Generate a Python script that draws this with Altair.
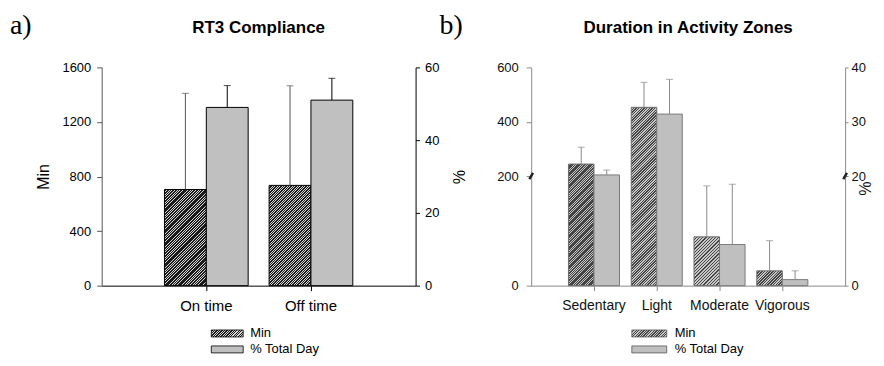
import altair as alt
import pandas as pd

FONT = "Liberation Sans"
SERIF = "Liberation Serif"

series = ["Min", "% Total Day"]

# Panel a) RT3 Compliance
a_categories = ["On time", "Off time"]
a_min_mean = [705, 735]
a_min_err = [705, 730]
a_pct_mean = [49, 51]
a_pct_err = [6, 6]
a_left_ticks = [0, 400, 800, 1200, 1600]
a_right_ticks = [0, 20, 40, 60]

# Panel b) Duration in Activity Zones
b_categories = ["Sedentary", "Light", "Moderate", "Vigorous"]
b_min_mean = [244, 453, 89, 27]
b_min_err = [62, 92, 93, 55]
b_pct_mean = [20.2, 31.4, 7.5, 1.1]
b_pct_err = [0.9, 6.4, 11.0, 1.6]
b_left_ticks = [0, 200, 400, 600]
b_right_ticks = [0, 20, 30, 40]

AW, BW, H = 315, 315, 219
A_BAR = AW / 3 / 2.5
B_BAR = BW / 5 / 2.46


def frame(cats, means, errs, s):
    return pd.DataFrame({"cat": cats, "series": s, "mean": means,
                         "top": [m + e for m, e in zip(means, errs)]})


def hatch(w, h, dark, light, px=1.6, duty=0.5):
    """Diagonal '/' stripes as a hard-stop linear gradient (stops on a 1/256 grid)."""
    w = max(w, 1.0)
    h = max(h, 1.0)
    total = w + h
    s = total / (w * w + h * h)
    k = max(2, int(round(px * 256 / total)))
    kd = max(1, int(round(k * duty)))
    stops = []
    i = 0
    while i * k < 256:
        a = i * k / 256
        b = min((i * k + kd) / 256, 1)
        c = min((i + 1) * k / 256, 1)
        stops += [{"offset": a, "color": dark}, {"offset": b, "color": dark},
                  {"offset": b, "color": light}, {"offset": c, "color": light}]
        i += 1
    return {"gradient": "linear", "x1": 0, "y1": 0, "x2": s * w, "y2": s * h, "stops": stops}


def text_layer(txt, x, y, **kw):
    return alt.Chart(pd.DataFrame({"t": [txt]})).mark_text(**kw).encode(
        text="t:N", x=alt.value(x), y=alt.value(y))


def legend(x0, x1, xt, y0, dark, light, fill2, stroke):
    layers = []
    for i, s in enumerate(series):
        yc = y0 + 16 * i
        fill = hatch(x1 - x0, 7, dark, light) if i == 0 else fill2
        layers.append(alt.Chart(pd.DataFrame({"s": [s]})).mark_rect(
            fill=fill, stroke=stroke, strokeWidth=0.8).encode(
            x=alt.value(x0), x2=alt.value(x1), y=alt.value(yc - 3.5), y2=alt.value(yc + 3.5)))
        layers.append(text_layer(s, xt, yc, font=FONT, fontSize=13, align="left",
                                 baseline="middle", color="black"))
    return layers


# ---------------- Panel a ----------------
a_min = frame(a_categories, a_min_mean, a_min_err, "Min")
a_pct = frame(a_categories, a_pct_mean, a_pct_err, "% Total Day")

ax_a_x = alt.Axis(title=None, labelAngle=0, labelFont=FONT, labelFontSize=15, labelColor="black",
                  domainColor="black", tickColor="black", tickSize=5, labelPadding=8)
xa = alt.X("cat:N", scale=alt.Scale(domain=a_categories, paddingInner=0, paddingOuter=0.5), axis=ax_a_x)
xoa = alt.XOffset("series:N", scale=alt.Scale(domain=series, paddingInner=0, paddingOuter=0.25))

ax_a_left = alt.Axis(orient="left", values=a_left_ticks, format="d", title="Min", titleFont=FONT,
                     titleFontSize=16, titleFontWeight="normal", titleColor="black", titleX=-58,
                     titleY=H / 2, titleAngle=-90, titleAlign="center", titleBaseline="middle",
                     labelFont=FONT, labelFontSize=13, labelColor="black", domainColor="#555",
                     tickColor="#555", tickSize=5, labelPadding=6, grid=False)
ya_min = alt.Scale(domain=[0, 1600], nice=False, zero=False)
ax_a_right = alt.Axis(orient="right", values=a_right_ticks, format="d", title="%", titleFont=FONT,
                      titleFontSize=16, titleFontWeight="normal", titleColor="black", titleX=42,
                      titleY=H / 2, titleAngle=90, titleAlign="center", titleBaseline="middle",
                      labelFont=FONT, labelFontSize=13, labelColor="black", domainColor="black",
                      tickColor="black", tickSize=4, labelPadding=5, grid=False)
ya_pct = alt.Scale(domain=[0, 60], nice=False, zero=False)

a_min_layers = []
for i, c in enumerate(a_categories):
    g = hatch(A_BAR, a_min_mean[i] / 1600 * H, "#1a1a1a", "#d8d8d8")
    a_min_layers.append(alt.Chart(a_min).transform_filter(alt.datum.cat == c).mark_bar(
        fill=g, stroke="black", strokeWidth=1).encode(
        x=xa, xOffset=xoa, y=alt.Y("mean:Q", scale=ya_min, axis=ax_a_left)))
a_min_layers.append(alt.Chart(a_min).mark_rule(color="#555", strokeWidth=1).encode(
    x=xa, xOffset=xoa, y=alt.Y("mean:Q", scale=ya_min, axis=ax_a_left), y2="top:Q"))
a_min_layers.append(alt.Chart(a_min).mark_tick(color="#555", size=7, thickness=1).encode(
    x=xa, xOffset=xoa, y=alt.Y("top:Q", scale=ya_min, axis=ax_a_left)))
a_left = alt.layer(*a_min_layers)

a_right = alt.layer(
    alt.Chart(a_pct).mark_bar(fill="#c0c0c0", stroke="black", strokeWidth=1).encode(
        x=xa, xOffset=xoa, y=alt.Y("mean:Q", scale=ya_pct, axis=ax_a_right)),
    alt.Chart(a_pct).mark_rule(color="black", strokeWidth=1).encode(
        x=xa, xOffset=xoa, y=alt.Y("mean:Q", scale=ya_pct, axis=ax_a_right), y2="top:Q"),
    alt.Chart(a_pct).mark_tick(color="black", size=7, thickness=1).encode(
        x=xa, xOffset=xoa, y=alt.Y("top:Q", scale=ya_pct, axis=ax_a_right)),
)

a_texts = [
    text_layer("a)", -92, -34, font=SERIF, fontSize=28, align="left", baseline="alphabetic", color="black"),
    text_layer("b)", 339, -34, font=SERIF, fontSize=28, align="left", baseline="alphabetic", color="black"),
    text_layer("RT3 Compliance", AW / 2, -40, font=FONT, fontSize=17, fontWeight="bold",
               align="center", baseline="middle", color="black"),
] + legend(110, 142, 149, 267, "#1a1a1a", "#d8d8d8", "#c0c0c0", "black")

panel_a = alt.layer(a_left, a_right, *a_texts).resolve_scale(y="independent").properties(width=AW, height=H)

# ---------------- Panel b ----------------
b_min = frame(b_categories, b_min_mean, b_min_err, "Min")
b_pct = frame(b_categories, b_pct_mean, b_pct_err, "% Total Day")

GR = "#8a8a8a"
ax_b_x = alt.Axis(title=None, labelAngle=0, labelFont=FONT, labelFontSize=14, labelColor="#111",
                  domainColor=GR, tickColor=GR, tickSize=5, labelPadding=8)
xb = alt.X("cat:N", scale=alt.Scale(domain=b_categories, paddingInner=0, paddingOuter=0.5), axis=ax_b_x)
xob = alt.XOffset("series:N", scale=alt.Scale(domain=series, paddingInner=0, paddingOuter=0.23))

ax_b_left = alt.Axis(orient="left", values=b_left_ticks, format="d", title=None, labelFont=FONT,
                     labelFontSize=13, labelColor="#111", domainColor=GR, tickColor=GR, tickSize=5,
                     labelPadding=8, grid=False)
yb_min = alt.Scale(domain=[0, 200, 600], range=[H, 109, 0], nice=False, zero=False)
ax_b_right = alt.Axis(orient="right", values=b_right_ticks, format="d", title="%", titleFont=FONT,
                      titleFontSize=16, titleFontWeight="normal", titleColor="#111", titleX=18,
                      titleY=121, titleAngle=90, titleAlign="center", titleBaseline="middle",
                      labelFont=FONT, labelFontSize=13, labelColor="#111", domainColor=GR,
                      tickColor=GR, tickSize=3, labelPadding=3, grid=False)
yb_pct = alt.Scale(domain=[0, 20, 40], range=[H, 109, 0], nice=False, zero=False)


def bpx_min(v):
    return v / 200 * 110 if v <= 200 else 110 + (v - 200) / 400 * 109


BREAK = "M -0.3 0.5 L 0.3 -0.5"
dummy = pd.DataFrame({"k": [0]})

b_min_layers = []
for i, c in enumerate(b_categories):
    g = hatch(B_BAR, bpx_min(b_min_mean[i]), "#444444", "#c8c8c8")
    b_min_layers.append(alt.Chart(b_min).transform_filter(alt.datum.cat == c).mark_bar(
        fill=g, stroke="#6a6a6a", strokeWidth=1).encode(
        x=xb, xOffset=xob, y=alt.Y("mean:Q", scale=yb_min, axis=ax_b_left)))
b_min_layers.append(alt.Chart(b_min).mark_rule(color=GR, strokeWidth=1).encode(
    x=xb, xOffset=xob, y=alt.Y("mean:Q", scale=yb_min, axis=ax_b_left), y2="top:Q"))
b_min_layers.append(alt.Chart(b_min).mark_tick(color=GR, size=7, thickness=1).encode(
    x=xb, xOffset=xob, y=alt.Y("top:Q", scale=yb_min, axis=ax_b_left)))
b_min_layers.append(alt.Chart(dummy).mark_point(shape=BREAK, size=150, strokeWidth=2.5, color="#222",
                                                filled=False, opacity=1).encode(
    x=alt.value(0), y=alt.Y(datum=200, scale=yb_min, axis=ax_b_left)))
b_left = alt.layer(*b_min_layers)

b_right = alt.layer(
    alt.Chart(b_pct).mark_bar(fill="#bfbfbf", stroke="#7a7a7a", strokeWidth=1).encode(
        x=xb, xOffset=xob, y=alt.Y("mean:Q", scale=yb_pct, axis=ax_b_right)),
    alt.Chart(b_pct).mark_rule(color=GR, strokeWidth=1).encode(
        x=xb, xOffset=xob, y=alt.Y("mean:Q", scale=yb_pct, axis=ax_b_right), y2="top:Q"),
    alt.Chart(b_pct).mark_tick(color=GR, size=7, thickness=1).encode(
        x=xb, xOffset=xob, y=alt.Y("top:Q", scale=yb_pct, axis=ax_b_right)),
    alt.Chart(dummy).mark_point(shape=BREAK, size=150, strokeWidth=2.5, color="#222",
                                filled=False, opacity=1).encode(
        x=alt.value(BW), y=alt.Y(datum=20, scale=yb_pct, axis=ax_b_right)),
)

b_texts = [
    text_layer("Duration in Activity Zones", BW / 2, -40, font=FONT, fontSize=17, fontWeight="bold",
               align="center", baseline="middle", color="black"),
] + legend(101, 136, 144, 267, "#444444", "#c8c8c8", "#bfbfbf", "#555")

panel_b = alt.layer(b_left, b_right, *b_texts).resolve_scale(y="independent").properties(width=BW, height=H)

chart = alt.hconcat(panel_a, panel_b, spacing=31).resolve_scale(xOffset="independent").properties(
    padding={"left": 2, "top": 3, "right": 5, "bottom": 0}
).configure_view(stroke=None).configure_axis(grid=False)

chart.save("out.html", embed_options={"renderer": "svg", "actions": False})
